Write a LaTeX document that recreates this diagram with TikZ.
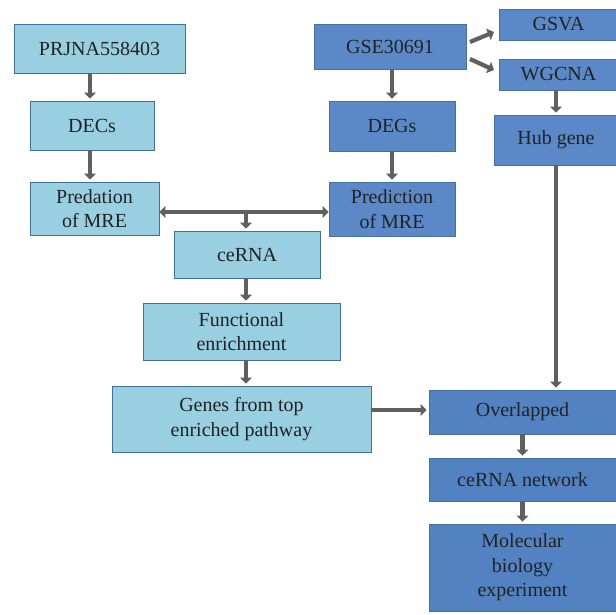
\documentclass[tikz,border=0pt]{standalone}
\usepackage{fontspec}
\setmainfont{Liberation Serif}
\usetikzlibrary{arrows.meta}
\definecolor{lightfill}{HTML}{98D0E2}
\definecolor{lightedge}{HTML}{41709E}
\definecolor{darkfill}{HTML}{5B89C8}
\definecolor{darkfill2}{HTML}{5382C2}
\definecolor{darkedge}{HTML}{46709F}
\definecolor{arrowgray}{HTML}{606060}
\definecolor{txt}{HTML}{222222}
\tikzset{
  box/.style={draw, line width=0.9pt, inner sep=0pt, align=center, text=txt,
    font=\fontsize{20}{24.5}\selectfont},
  lbox/.style={box, fill=lightfill, draw=lightedge},
  dbox/.style={box, fill=darkfill, draw=darkedge},
  dbox2/.style={box, fill=darkfill2, draw=darkedge},
  arr/.style={draw=arrowgray, line width=4.2pt,
    -{Triangle[length=6pt,width=12pt]}, shorten >=2pt},
  dblarr/.style={draw=arrowgray, line width=4.2pt,
    {Triangle[length=6pt,width=12pt]}-{Triangle[length=6pt,width=12pt]}}
}
\begin{document}
\begin{tikzpicture}[x=1pt,y=-1pt]
\useasboundingbox (0,0) rectangle (616,614);
% left column
\node[lbox, minimum width=171pt, minimum height=49pt] (prj) at (99.5,48.5) {PRJNA558403};
\node[lbox, minimum width=124pt, minimum height=49pt] (decs) at (92,125.5) {DECs};
\node[lbox, minimum width=129pt, minimum height=53pt] (pred) at (94.5,208.5) {Predation\\of MRE};
\node[lbox, minimum width=146pt, minimum height=47pt] (cerna) at (247,254.5) {ceRNA};
\node[lbox, minimum width=197pt, minimum height=57pt] (func) at (241.5,331.5) {Functional\\enrichment};
\node[lbox, minimum width=259pt, minimum height=66pt] (genes) at (241.5,419) {Genes from top\\enriched pathway};
% right part
\node[dbox, minimum width=152pt, minimum height=45pt] (gse) at (390,46.5) {GSE30691};
\node[dbox, minimum width=119pt, minimum height=31pt] (gsva) at (558.5,24.5) {GSVA};
\node[dbox, minimum width=119pt, minimum height=31pt] (wgcna) at (558.5,74.5) {WGCNA};
\node[dbox, minimum width=126pt, minimum height=50pt] (degs) at (392,126) {DEGs};
\node[dbox, minimum width=126pt, minimum height=54pt] (predic) at (392,209) {Prediction\\of MRE};
\node[dbox, minimum width=124pt, minimum height=50pt] (hub) at (556,140) {Hub gene};
\node[dbox2, minimum width=187pt, minimum height=44pt] (over) at (522.5,412) {Overlapped};
\node[dbox2, minimum width=187pt, minimum height=43pt] (cenet) at (522.5,479.5) {ceRNA network};
\node[dbox2, minimum width=187pt, minimum height=87pt] (mol) at (522.5,567.5) {Molecular\\biology\\experiment};
% connectors
\coordinate (j) at (246,212);
\coordinate (gsvaIn) at (494,32);
\coordinate (wgcnaIn) at (494,70);
\coordinate (gseOut1) at (470,42);
\coordinate (gseOut2) at (470,59);
\draw[arr] (prj.south -| 90,0) -- (decs.north -| 90,0);
\draw[arr] (decs.south -| 90,0) -- (pred.north -| 90,0);
\draw[dblarr] (pred.east |- j) -- (predic.west |- j);
\draw[arr] (j) -- (cerna.north -| j);
\draw[arr] (cerna.south -| j) -- (func.north -| j);
\draw[arr] (func.south -| j) -- (genes.north -| j);
\draw[arr] (genes.east |- 0,410) -- (over.west |- 0,410);
\draw[arr, shorten >=0pt] (gseOut1) -- (gsvaIn);
\draw[arr, shorten >=0pt] (gseOut2) -- (wgcnaIn);
\draw[arr] (gse.south -| degs.north) -- (degs.north);
\draw[arr] (degs.south) -- (predic.north);
\draw[arr] (wgcna.south -| hub.north) -- (hub.north);
\draw[arr] (hub.south) -- (over.north -| hub.south);
\draw[arr] (over.south) -- (cenet.north);
\draw[arr] (cenet.south) -- (mol.north);
\end{tikzpicture}
\end{document}
